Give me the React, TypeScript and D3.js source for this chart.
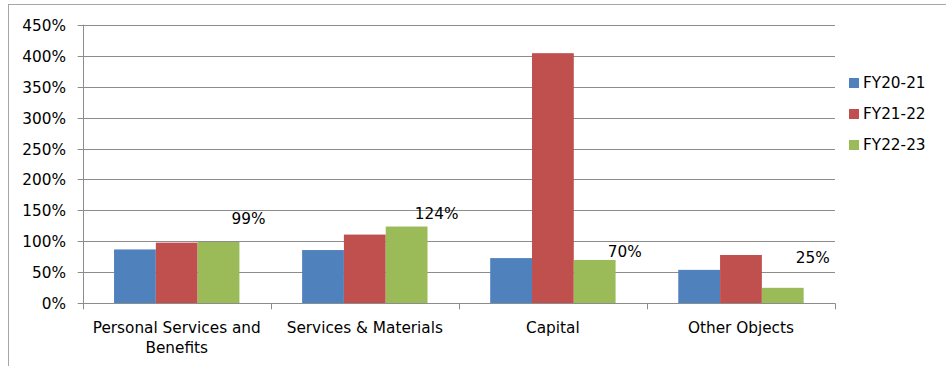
import React from "react";
import * as d3 from "d3";

const categories: string[][] = [
  ["Personal Services and", "Benefits"],
  ["Services & Materials"],
  ["Capital"],
  ["Other Objects"],
];
const seriesNames = ["FY20-21", "FY21-22", "FY22-23"];
const fy2021 = [0.87, 0.86, 0.73, 0.54];
const fy2122 = [0.98, 1.11, 4.04, 0.78];
const fy2223 = [0.99, 1.24, 0.70, 0.25];
const dataLabels = ["99%", "124%", "70%", "25%"];
// vertical anchor of each data label (value units, as placed in the picture)
const labelAnchor = [1.28, 1.36, 0.75, 0.65];
const yTicks = [0, 0.5, 1, 1.5, 2, 2.5, 3, 3.5, 4, 4.5];
const colors = ["#4F81BD", "#C0504D", "#9BBB59"];

const W = 946;
const H = 366;
const plot = { left: 82.7, right: 835, top: 24.7, bottom: 303.3 };
const font = "'DejaVu Sans', Verdana, sans-serif";
const fs = 15.3;
const gridColor = "#8c8c8c";

export default function App() {
  const series = [fy2021, fy2122, fy2223];
  const idx = categories.map((_, i) => String(i));
  const x0 = d3.scaleBand<string>().domain(idx).range([plot.left, plot.right]).padding(0);
  const step = x0.bandwidth();
  const bw = step / 4.5;
  const x1 = d3
    .scaleBand<string>()
    .domain(seriesNames)
    .range([0.75 * bw, 0.75 * bw + 3 * bw])
    .padding(0);
  const y = d3.scaleLinear().domain([0, 4.5]).range([plot.bottom, plot.top]);
  const fmt = d3.format(".0%");

  return (
    <svg
      width={W}
      height={H}
      style={{ position: "absolute", left: 0, top: 0, background: "#fff" }}
      fontFamily={font}
    >
      <rect x={8.5} y={4.5} width={W} height={H} fill="#fff" stroke="#a6a6a6" strokeWidth={1} />
      {/* gridlines */}
      {yTicks.map((t) => (
        <line
          key={"g" + t}
          x1={plot.left - 5}
          x2={plot.right}
          y1={Math.round(y(t)) + 0.5}
          y2={Math.round(y(t)) + 0.5}
          stroke={gridColor}
          strokeWidth={1}
        />
      ))}
      {/* y tick labels */}
      {yTicks.map((t) => (
        <text
          key={"yl" + t}
          x={66}
          y={Math.round(y(t)) + 0.5}
          textAnchor="end"
          dominantBaseline="central"
          fontSize={fs}
          fill="#000"
        >
          {fmt(t)}
        </text>
      ))}
      {/* bars */}
      {series.map((vals, s) =>
        vals.map((v, i) => {
          const bx = (x0(String(i)) as number) + (x1(seriesNames[s]) as number);
          return (
            <rect
              key={`b${s}-${i}`}
              x={bx}
              y={y(v)}
              width={x1.bandwidth()}
              height={y(0) - y(v)}
              fill={colors[s]}
            />
          );
        })
      )}
      {/* axes */}
      <line
        x1={Math.round(plot.left) + 0.5}
        x2={Math.round(plot.left) + 0.5}
        y1={plot.top}
        y2={plot.bottom}
        stroke={gridColor}
      />
      <line
        x1={plot.left}
        x2={plot.right}
        y1={Math.round(plot.bottom) + 0.5}
        y2={Math.round(plot.bottom) + 0.5}
        stroke={gridColor}
      />
      {idx.concat(["end"]).map((k, i) => {
        const xx = k === "end" ? plot.right : (x0(k) as number);
        return (
          <line
            key={"xt" + i}
            x1={Math.round(xx) + 0.5}
            x2={Math.round(xx) + 0.5}
            y1={plot.bottom}
            y2={plot.bottom + 6}
            stroke={gridColor}
          />
        );
      })}
      {/* category labels */}
      {categories.map((lines, i) => {
        const cx = (x0(String(i)) as number) + step / 2;
        return (
          <text key={"c" + i} x={cx} textAnchor="middle" fontSize={fs} fill="#000">
            {lines.map((l, j) => (
              <tspan key={j} x={cx} y={333 + j * 20}>
                {l}
              </tspan>
            ))}
          </text>
        );
      })}
      {/* data labels */}
      {dataLabels.map((l, i) => {
        const gx = (x0(String(i)) as number) + (x1(seriesNames[2]) as number) + x1.bandwidth() / 2;
        return (
          <text
            key={"dl" + i}
            x={gx + 0.72 * bw}
            y={y(labelAnchor[i])}
            textAnchor="middle"
            fontSize={fs}
            fill="#000"
          >
            {l}
          </text>
        );
      })}
      {/* legend */}
      {seriesNames.map((n, s) => {
        const cy = 83 + s * 31;
        return (
          <g key={"lg" + s}>
            <rect x={849} y={cy - 5} width={10} height={10} fill={colors[s]} />
            <text x={863} y={cy} dominantBaseline="central" fontSize={fs} fill="#000">
              {n}
            </text>
          </g>
        );
      })}
    </svg>
  );
}
